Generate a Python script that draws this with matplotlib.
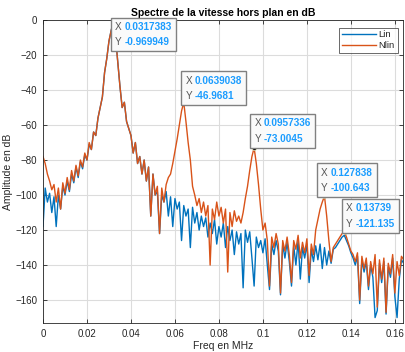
import numpy as np
import matplotlib
matplotlib.use("Agg")
import matplotlib.pyplot as plt
from matplotlib.offsetbox import TextArea, HPacker, VPacker, AnnotationBbox

plt.rcParams['font.family'] = ['Liberation Sans', 'DejaVu Sans']

# frequency step of the spectrum (MHz)
df = 0.001

# Nlin spectrum in dB, one value per df step from 0 MHz
nlin_db = [
    -78, -82, -88, -92, -97, -94, -104, -96, -108, -93,
    -99, -90, -97, -86, -92, -83, -89, -80, -84, -76,
    -80, -70, -74, -64, -66, -56, -50, -44, -30, -22,
    -12, -6, -1, -10, -24, -38, -50, -47, -58, -62,
    -66, -76, -70, -82, -78, -88, -80, -92, -84, -112,
    -88, -100, -95, -122, -96, -104, -94, -90, -88, -82,
    -75, -68, -60, -52, -47, -58, -70, -80, -95, -100,
    -106, -102, -110, -104, -112, -106, -140, -108, -114, -104,
    -112, -107, -116, -108, -144, -110, -118, -109, -115, -112,
    -116, -110, -102, -95, -86, -78, -73, -82, -94, -108,
    -120, -116, -126, -152, -124, -130, -122, -128, -156, -126,
    -132, -124, -134, -150, -126, -131, -123, -136, -127, -133,
    -125, -146, -128, -134, -120, -114, -108, -104, -100.6, -112,
    -126, -138, -130, -128, -126, -124, -122, -121, -124, -128,
    -132, -134, -138, -133, -160, -135, -142, -136, -152, -138,
    -145, -134, -164, -137, -148, -136, -167, -139, -145, -134,
    -156, -138, -146, -135, -137,
]

# Lin spectrum in dB
lin_db = [
    -118, -96, -104, -99, -110, -101, -118, -100, -108, -95,
    -100, -92, -98, -88, -93, -84, -90, -81, -85, -77,
    -80, -71, -74, -64, -66, -56, -50, -44, -30, -22,
    -12, -6, -1, -10, -24, -38, -50, -47, -58, -62,
    -66, -76, -70, -82, -78, -88, -80, -92, -84, -112,
    -88, -100, -98, -122, -100, -104, -98, -112, -101, -118,
    -102, -108, -104, -126, -106, -112, -108, -130, -107, -116,
    -110, -120, -112, -118, -113, -124, -116, -122, -114, -128,
    -118, -124, -116, -130, -118, -126, -120, -134, -121, -128,
    -122, -153, -120, -127, -121, -136, -152, -124, -130, -126,
    -133, -125, -140, -154, -128, -134, -126, -132, -157, -128,
    -136, -127, -138, -152, -129, -140, -126, -148, -130, -136,
    -128, -150, -131, -138, -129, -137, -128, -142, -130, -140,
    -132, -139, -131, -130, -128, -126, -124, -123, -126, -129,
    -133, -136, -140, -135, -162, -137, -144, -138, -154, -140,
    -147, -170, -166, -139, -150, -138, -168, -141, -147, -136,
    -158, -170, -148, -137, -139,
]

# data tips
tip_x = [0.0317383, 0.0639038, 0.0957336, 0.127838, 0.13739]
tip_y = [-0.969949, -46.9681, -73.0045, -100.643, -121.135]
tip_xs = ['0.0317383', '0.0639038', '0.0957336', '0.127838', '0.13739']
tip_ys = ['-0.969949', '-46.9681', '-73.0045', '-100.643', '-121.135']

freq = np.arange(len(nlin_db)) * df

fig = plt.figure(figsize=(4.05, 3.52), dpi=100)
ax = fig.add_axes([43/405, 1 - 323/352, 360/405, 303/352])

ax.plot(freq, lin_db, color='#0072BD', lw=1.0, label='Lin')
ax.plot(freq, nlin_db, color='#D95319', lw=1.0, label='Nlin')

ax.set_xlim(0, 0.1637)
ax.set_ylim(-173.1, 0)
ax.set_xticks(np.arange(0, 0.161, 0.02))
ax.set_xticklabels(['0', '0.02', '0.04', '0.06', '0.08', '0.1', '0.12', '0.14', '0.16'])
ax.set_yticks(np.arange(-160, 1, 20))

ax.grid(True, color='#dcdcdc', lw=0.8)
ax.set_axisbelow(True)
ax.tick_params(direction='in', top=True, right=True, length=3, width=0.6,
               labelsize=7, colors='#262626', pad=4)
for s in ax.spines.values():
    s.set_color('#262626')
    s.set_linewidth(0.6)

ax.set_title('Spectre de la vitesse hors plan en dB', fontsize=7.5,
             fontweight='bold', pad=3)
ax.set_xlabel('Freq en MHz', fontsize=7.5, color='#262626', labelpad=2)
ax.set_ylabel('Amplitude en dB', fontsize=7.5, color='#262626')
ax.yaxis.set_label_coords(-0.082, 0.5)

leg = ax.legend(loc='upper right', fontsize=6.8, frameon=True, fancybox=False,
                handlelength=3.6, borderpad=0.3, labelspacing=0.15,
                handletextpad=0.3, borderaxespad=0, bbox_to_anchor=(0.985, 0.975))
leg.get_frame().set_edgecolor('#262626')
leg.get_frame().set_linewidth(0.6)
for t in leg.get_texts():
    t.set_color('#262626')

# box offsets (pixels) and alignment of each data tip
offsets = [(2, 0), (2, 1), (1, 4), (-3, 3), (1, 3)]
aligns = [(0, 1), (0, 0), (0, 0), (0, 0), (0, 0)]

for i in range(len(tip_x)):
    ax.plot(tip_x[i], tip_y[i], 'o', ms=3, mfc='black', mec='#f0f0c0',
            mew=0.5, zorder=5)
    row1 = HPacker(children=[
        TextArea('X', textprops=dict(color='#555555', fontsize=7.2)),
        TextArea(tip_xs[i], textprops=dict(color='#1a9cff', fontsize=7.2,
                                           fontweight='bold'))],
        pad=0, sep=2)
    row2 = HPacker(children=[
        TextArea('Y', textprops=dict(color='#555555', fontsize=7.2)),
        TextArea(tip_ys[i], textprops=dict(color='#1a9cff', fontsize=7.2,
                                           fontweight='bold'))],
        pad=0, sep=2)
    box = VPacker(children=[row1, row2], pad=0, sep=4, align='left')
    ab = AnnotationBbox(box, (tip_x[i], tip_y[i]), xybox=offsets[i],
                        xycoords='data', boxcoords='offset pixels',
                        box_alignment=aligns[i], pad=0.45, frameon=True,
                        bboxprops=dict(fc='#fafafa', ec='#808080', lw=1.0,
                                       boxstyle='square'))
    ab.set_zorder(6)
    ax.add_artist(ab)

fig.savefig('out.png', dpi=100)
